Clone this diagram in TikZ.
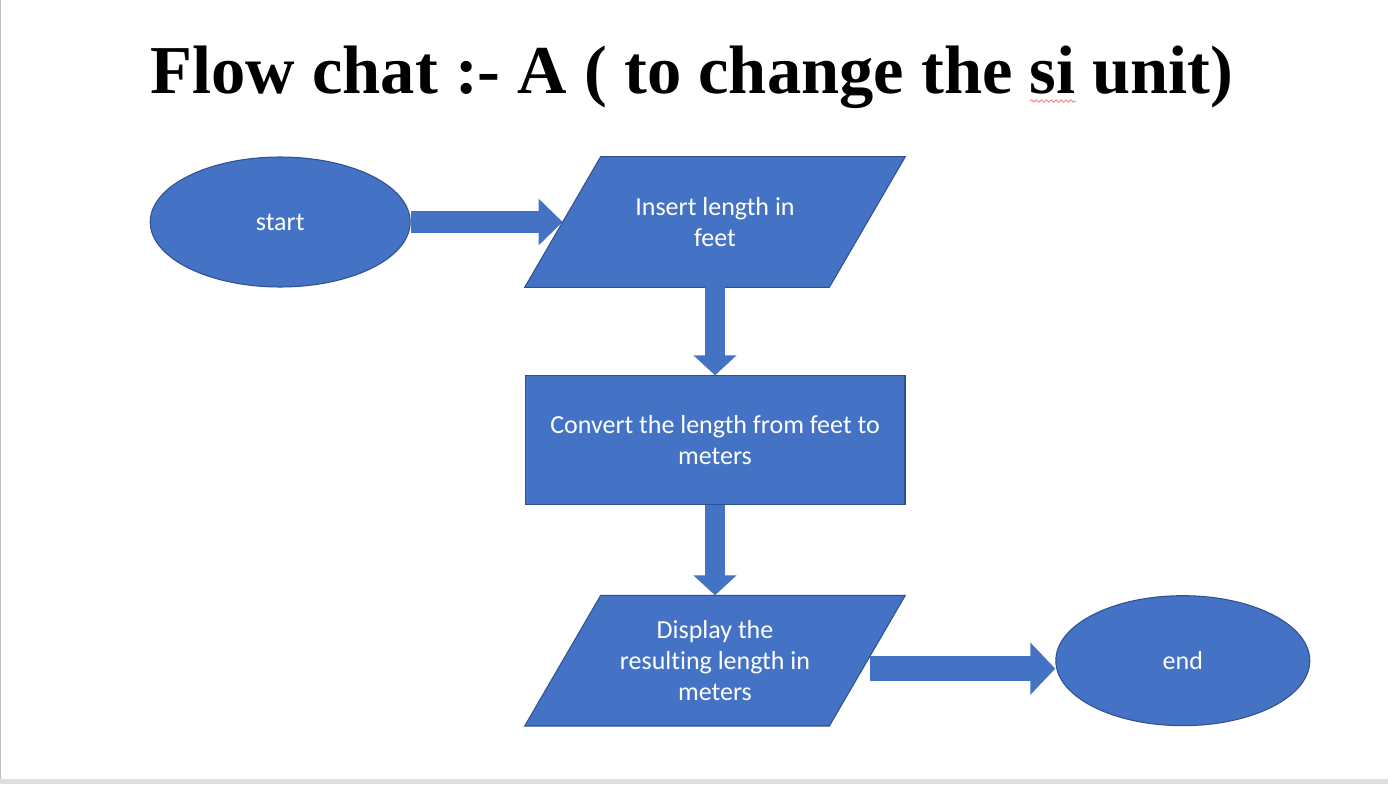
\documentclass[tikz,border=0pt]{standalone}
\usepackage{fontspec}
\setmainfont{Carlito}[Ligatures=NoCommon]
\newfontfamily\titlefont{Liberation Serif}
\usepackage{tikz}
\usetikzlibrary{arrows.meta,positioning,shapes.geometric,backgrounds,decorations.pathmorphing}
\definecolor{boxblue}{HTML}{4472C4}
\definecolor{edgeblue}{HTML}{2F528F}

\begin{document}
\begin{tikzpicture}[x=0.02cm, y=-0.02cm,
    every node/.style={font=\fontsize{14.8}{17.6}\selectfont, text=white, align=center},
    term/.style={ellipse, draw=edgeblue, fill=boxblue, line width=0.6pt,
                 minimum width=5.2cm, minimum height=2.6cm, inner sep=0pt},
    io/.style={rectangle, minimum width=6.08cm, minimum height=2.6cm},
    ioshape/.style={draw=edgeblue, fill=boxblue, line width=0.6pt, line join=miter},
    proc/.style={rectangle, draw=edgeblue, fill=boxblue, line width=0.6pt,
                 minimum width=7.6cm, minimum height=2.58cm},
    flow/.style n args={3}{draw=boxblue, line width=#1, -{Triangle[width=#2,length=#3]}}]
  \useasboundingbox (0,0) rectangle (1388,784);
  \begin{scope}[on background layer]
    \fill[white] (0,0) rectangle (1388,784);
    \fill[black!13] (0,779) rectangle (1388,784);
    \draw[black!25] (0.5,0) -- (0.5,779);
  \end{scope}

  \node[text=black, font=\titlefont\bfseries\fontsize{39}{45}\selectfont, anchor=base] (title) at (692,93)
    {Flow chat :- A ( to change the si unit)};
  \draw[red!60, decorate, decoration={snake, amplitude=0.7pt, segment length=2.8pt}]
    (1030,101) -- (1076,101);

  \node[io] (in) at (715,222) {Insert length in\\feet};
  \node[term, left=3.04cm of in] (start) {start};
  \node[proc, below=1.76cm of in] (conv) {Convert the length from feet to\\meters};
  \node[io, below=1.8cm of conv] (disp) {Display the\\resulting length in\\meters};
  \node[term, minimum width=5.08cm, right=3.76cm of disp] (done) {end};

  % slanted input/output boxes behind their text
  \begin{scope}[on background layer]
    \foreach \n in {in,disp}
      \filldraw[ioshape] ([xshift=-0.76cm]\n.south west) -- ([xshift=0.76cm]\n.north west)
        -- ([xshift=0.76cm]\n.north east) -- ([xshift=-0.76cm]\n.south east) -- cycle;
  \end{scope}

  \draw[flow={0.43cm}{0.9cm}{0.48cm}] (start) -- (in);
  \draw[flow={0.4cm}{0.84cm}{0.4cm}] (in) -- (conv);
  \draw[flow={0.4cm}{0.84cm}{0.4cm}] (conv) -- (disp);
  \draw[flow={0.5cm}{1.02cm}{0.5cm}] ([shift={(3,8)}]disp.east) -- ([shift={(0,8)}]done.west);
\end{tikzpicture}
\end{document}
